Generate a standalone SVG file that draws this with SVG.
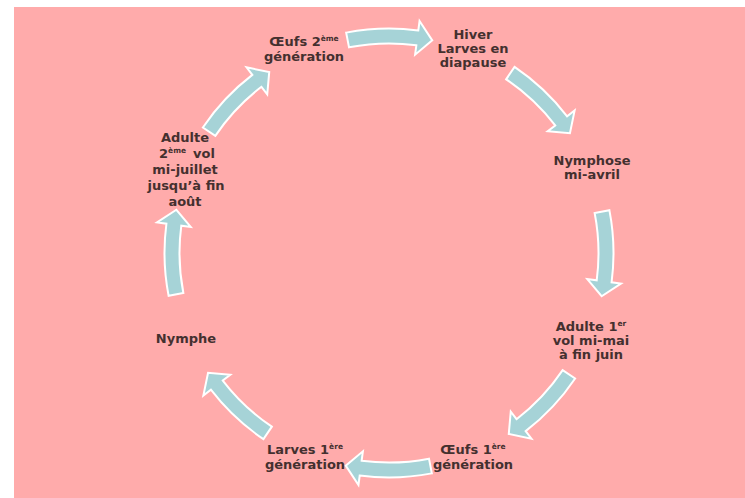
<svg xmlns="http://www.w3.org/2000/svg" xmlns:xlink="http://www.w3.org/1999/xlink" width="745" height="498" viewBox="0 0 745 498">
  <style>
    .lbl { font-family: "DejaVu Sans", Verdana, sans-serif; font-size: 13px; font-weight: bold; fill: #44302f; text-anchor: middle; }
    .sup { font-size: 7.5px; }
    .arr { fill: #A6D3D7; stroke: #ffffff; stroke-width: 2; stroke-linejoin: miter; }
  </style>
  <defs>
    <path id="arrow" class="arr" d="M220.38,-42.84 A224.5,224.5 0 0 1 222.58,29.30 L231.99,30.54 L212.64,43.26 L198.29,26.11 L207.71,27.35 A209.5,209.5 0 0 0 205.65,-39.97 Z"/>
  </defs>
  <rect x="0" y="0" width="745" height="498" fill="#ffffff"/>
  <rect x="14" y="7" width="731" height="491" fill="#FFABAB"/>

  <g id="connectors">
    <use xlink:href="#arrow" href="#arrow" transform="translate(389,253) rotate(-90)"/>
    <use xlink:href="#arrow" href="#arrow" transform="translate(389,253) rotate(-45)"/>
    <use xlink:href="#arrow" href="#arrow" transform="translate(389,253) rotate(0)"/>
    <use xlink:href="#arrow" href="#arrow" transform="translate(389,253) rotate(45)"/>
    <use xlink:href="#arrow" href="#arrow" transform="translate(389,253) rotate(90)"/>
    <use xlink:href="#arrow" href="#arrow" transform="translate(389,253) rotate(135)"/>
    <use xlink:href="#arrow" href="#arrow" transform="translate(389,253) rotate(180)"/>
    <use xlink:href="#arrow" href="#arrow" transform="translate(389,253) rotate(-135)"/>
  </g>

  <g id="oeufs2">
    <text class="lbl" x="304" y="46">Œufs 2<tspan class="sup" dy="-5">ème</tspan></text>
    <text class="lbl" x="304" y="61">génération</text>
  </g>
  <g id="hiver">
    <text class="lbl" x="473" y="39">Hiver</text>
    <text class="lbl" x="473" y="53">Larves en</text>
    <text class="lbl" x="473" y="67">diapause</text>
  </g>
  <g id="nymphose">
    <text class="lbl" x="592" y="165">Nymphose</text>
    <text class="lbl" x="592" y="179">mi-avril</text>
  </g>
  <g id="adulte1">
    <text class="lbl" x="591" y="331">Adulte 1<tspan class="sup" dy="-5">er</tspan></text>
    <text class="lbl" x="591" y="345">vol mi-mai</text>
    <text class="lbl" x="591" y="359">à fin juin</text>
  </g>
  <g id="oeufs1">
    <text class="lbl" x="473" y="454">Œufs 1<tspan class="sup" dy="-5">ère</tspan></text>
    <text class="lbl" x="473" y="469">génération</text>
  </g>
  <g id="larves1">
    <text class="lbl" x="305" y="454">Larves 1<tspan class="sup" dy="-5">ère</tspan></text>
    <text class="lbl" x="305" y="469">génération</text>
  </g>
  <g id="nymphe">
    <text class="lbl" x="186" y="343">Nymphe</text>
  </g>
  <g id="adulte2">
    <text class="lbl" x="185" y="142">Adulte</text>
    <text class="lbl" x="187" y="158">2<tspan class="sup" dy="-5">ème</tspan><tspan dx="7" dy="5">vol</tspan></text>
    <text class="lbl" x="185" y="174">mi-juillet</text>
    <text class="lbl" x="186" y="190">jusqu’à fin</text>
    <text class="lbl" x="185" y="206">août</text>
  </g>
</svg>
